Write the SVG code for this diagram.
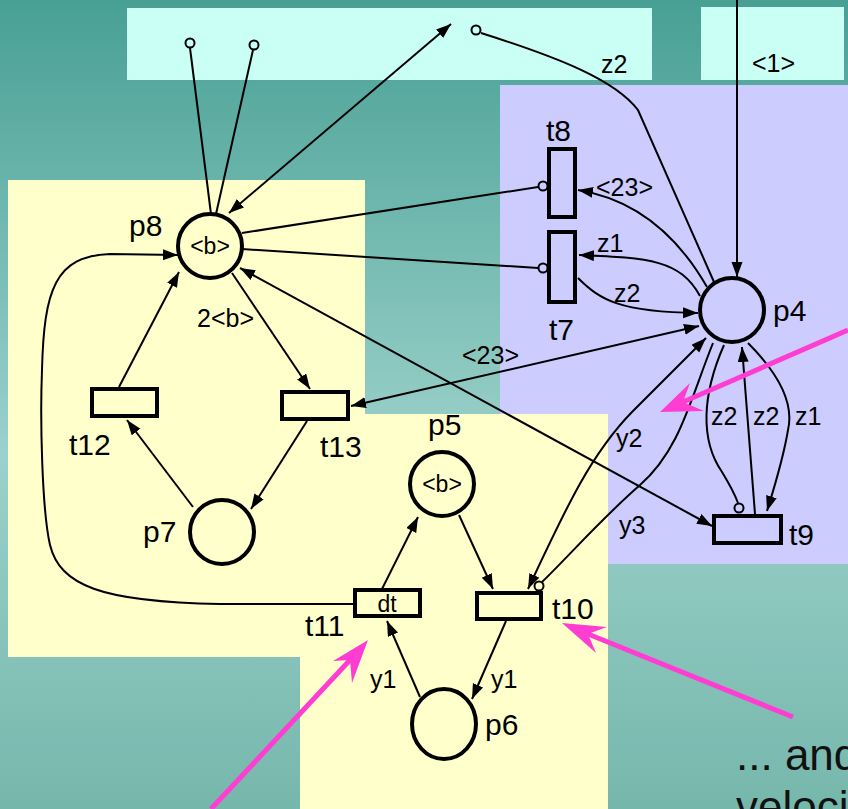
<svg xmlns="http://www.w3.org/2000/svg" width="848" height="809" viewBox="0 0 848 809">
<defs>
<linearGradient id="bg" x1="0" y1="0" x2="0" y2="1">
<stop offset="0" stop-color="#48a095"/>
<stop offset="0.56" stop-color="#9bd1ca"/>
<stop offset="1" stop-color="#76b7ac"/>
</linearGradient>
<marker id="ah" markerUnits="userSpaceOnUse" markerWidth="16" markerHeight="12" refX="15" refY="5.5" orient="auto-start-reverse" viewBox="0 0 16 12">
<path d="M0,0 L15,5.5 L0,11 z" fill="#000"/>
</marker>
<style>
.arc{fill:none;stroke:#000;stroke-width:2}
.pl{stroke:#000;stroke-width:4}
.tr{stroke:#000;stroke-width:4}
.inh{stroke:#000;stroke-width:2}
.nl{font-family:"Liberation Sans",Arial,sans-serif;font-size:30px;fill:#000}
.al{font-family:"Liberation Sans",Arial,sans-serif;font-size:25px;fill:#000}
.tk{font-family:"Liberation Sans",Arial,sans-serif;font-size:23px;fill:#000;text-anchor:middle}
.pk{stroke:#ff3dd2;stroke-width:5;fill:none}
.pkh{fill:#ff3dd2}
.bt{font-family:"Liberation Sans",Arial,sans-serif;font-size:44px;fill:#111}
</style>
</defs>
<rect x="0" y="0" width="848" height="809" fill="url(#bg)"/>
<g id="panels">
<rect x="127" y="8" width="525" height="72" fill="#c9fff4"/>
<rect x="701" y="7" width="143" height="73" fill="#c9fff4"/>
<rect x="500" y="85" width="348" height="479" fill="#ccccff"/>
<rect x="8" y="180" width="357" height="477" fill="#ffffcc"/>
<rect x="300" y="414" width="308" height="395" fill="#ffffcc"/>
</g>
<g id="connectors">
<path class="arc" d="M190,48 L211,214"/>
<path class="arc" d="M253,50 L216,214"/>
<path class="arc" d="M451,24 L229,213" marker-start="url(#ah)" marker-end="url(#ah)"/>
<path class="arc" d="M481,33 C560,58 615,80 638,110 L714,282"/>
<path class="arc" d="M737,0 L737,277" marker-end="url(#ah)"/>
<path class="arc" d="M242,233 L538,187"/>
<path class="arc" d="M242,249 L538,268"/>
<path class="arc" d="M707,287 C680,240 640,200 578,190" marker-end="url(#ah)"/>
<path class="arc" d="M700,296 C680,260 650,258 579,255" marker-end="url(#ah)"/>
<path class="arc" d="M578,278 C600,300 620,312 698,313" marker-end="url(#ah)"/>
<path class="arc" d="M351,406 L699,326" marker-start="url(#ah)" marker-end="url(#ah)"/>
<path class="arc" d="M240,268 L712,526" marker-start="url(#ah)" marker-end="url(#ah)"/>
<path class="arc" d="M232,273 L310,389" marker-end="url(#ah)"/>
<path class="arc" d="M119,387 L179,272" marker-end="url(#ah)"/>
<path class="arc" d="M193,507 L127,420" marker-end="url(#ah)"/>
<path class="arc" d="M307,421 L251,509" marker-end="url(#ah)"/>
<path class="arc" d="M354,604 L220,604 C100,602 60,585 50,545 C42,510 40,420 42,370 C44,290 55,256 110,254 L178,255" marker-end="url(#ah)"/>
<path class="arc" d="M459,515 L493,589" marker-end="url(#ah)"/>
<path class="arc" d="M382,589 L418,517" marker-end="url(#ah)"/>
<path class="arc" d="M420,697 L387,621" marker-end="url(#ah)"/>
<path class="arc" d="M506,621 L472,699" marker-end="url(#ah)"/>
<path class="arc" d="M528,589 C565,510 590,455 632,412 L706,338" marker-start="url(#ah)" marker-end="url(#ah)"/>
<path class="arc" d="M713,343 C690,400 680,450 640,485 C600,520 570,555 542,582"/>
<path class="arc" d="M724,345 C702,395 700,440 722,472 C730,485 735,495 738,503"/>
<path class="arc" d="M755,514 L742,347" marker-end="url(#ah)"/>
<path class="arc" d="M748,343 C775,370 795,400 788,430 C783,460 775,485 767,511" marker-end="url(#ah)"/>
<circle class="inh" cx="190" cy="43" r="4.5" fill="#c9fff4"/>
<circle class="inh" cx="254" cy="45" r="4.5" fill="#c9fff4"/>
<circle class="inh" cx="476" cy="30" r="4.5" fill="#c9fff4"/>
<circle class="inh" cx="543" cy="186" r="4.5" fill="#ccccff"/>
<circle class="inh" cx="543" cy="268" r="4.5" fill="#ccccff"/>
<circle class="inh" cx="539" cy="586" r="4.5" fill="#ffffcc"/>
<circle class="inh" cx="739" cy="508" r="4.5" fill="#ccccff"/>
</g>
<g id="p8"><circle class="pl" cx="210" cy="246" r="32" fill="#ffffcc"/><text class="tk" x="210" y="254">&lt;b&gt;</text><text class="nl" x="129" y="236">p8</text></g>
<g id="p7"><circle class="pl" cx="222" cy="532" r="32" fill="#ffffcc"/><text class="nl" x="143" y="542">p7</text></g>
<g id="p5"><circle class="pl" cx="442" cy="484" r="32" fill="#ffffcc"/><text class="tk" x="442" y="492">&lt;b&gt;</text><text class="nl" x="428" y="435">p5</text></g>
<g id="p6"><ellipse class="pl" cx="444" cy="724" rx="32" ry="35" fill="#ffffcc"/><text class="nl" x="485" y="735">p6</text></g>
<g id="p4"><circle class="pl" cx="732" cy="310" r="32" fill="#ccccff"/><text class="nl" x="773" y="321">p4</text></g>
<g id="t12"><rect class="tr" x="92" y="389" width="65" height="27" fill="#ffffcc"/><text class="nl" x="69" y="455">t12</text></g>
<g id="t13"><rect class="tr" x="282" y="392" width="66" height="27" fill="#ffffcc"/><text class="nl" x="320" y="457">t13</text></g>
<g id="t11"><rect class="tr" x="355" y="590" width="65" height="26" fill="#ffffcc"/><text class="tk" x="387" y="612">dt</text><text class="nl" x="305" y="636">t11</text></g>
<g id="t10"><rect class="tr" x="477" y="593" width="64" height="26" fill="#ffffcc"/><text class="nl" x="552" y="619">t10</text></g>
<g id="t8"><rect class="tr" x="549" y="149" width="26" height="68" fill="#ccccff"/><text class="nl" x="546" y="141">t8</text></g>
<g id="t7"><rect class="tr" x="549" y="232" width="26" height="70" fill="#ccccff"/><text class="nl" x="549" y="340">t7</text></g>
<g id="t9"><rect class="tr" x="714" y="516" width="67" height="27" fill="#ccccff"/><text class="nl" x="789" y="545">t9</text></g>
<g id="labels">
<text class="al" x="601" y="73">z2</text>
<text class="al" x="752" y="72">&lt;1&gt;</text>
<text class="al" x="596" y="196">&lt;23&gt;</text>
<text class="al" x="597" y="252">z1</text>
<text class="al" x="614" y="302">z2</text>
<text class="al" x="462" y="364">&lt;23&gt;</text>
<text class="al" x="197" y="327">2&lt;b&gt;</text>
<text class="al" x="616" y="447">y2</text>
<text class="al" x="619" y="534">y3</text>
<text class="al" x="711" y="425">z2</text>
<text class="al" x="753" y="425">z2</text>
<text class="al" x="795" y="425">z1</text>
<text class="al" x="370" y="688">y1</text>
<text class="al" x="491" y="688">y1</text>
</g>
<g id="pink-arrows">
<path class="pk" d="M848,330 L683,402"/>
<polygon class="pkh" points="660,412 690,383 683,402 704,411"/>
<path class="pk" d="M793,717 L588,634"/>
<polygon class="pkh" points="562,623 607,627 588,634 596,653"/>
<path class="pk" d="M211,809 L350,660"/>
<polygon class="pkh" points="368,640 333,661 350,660 352,683"/>
</g>
<g id="caption">
<text class="bt" x="736" y="770">... and</text>
<text class="bt" x="736" y="822">velocity</text>
</g>
</svg>
